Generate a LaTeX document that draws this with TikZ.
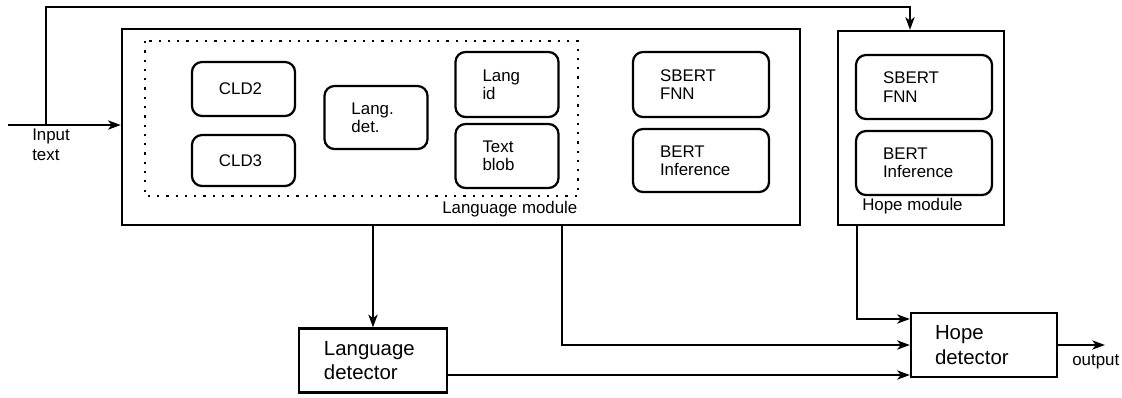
\documentclass[tikz,border=0pt]{standalone}
\usepackage{fontspec}
\setmainfont{Liberation Sans}
\usepackage{tikz}
\usetikzlibrary{arrows.meta}
\tikzstyle{unit} = [rectangle, rounded corners=0.25cm,
line width=1.6pt,
draw=black,
align=left,
inner xsep=0.675cm,
inner ysep=0pt,
font=\fontsize{12}{13}\selectfont]
\tikzstyle{smallunit} = [unit, text width=1.225cm]
\tikzstyle{wideunit} = [unit, text width=2.05cm]
\tikzstyle{module} = [rectangle,
line width=1.6pt,
draw=black]
\tikzstyle{detector} = [rectangle,
line width=1.6pt,
draw=black,
align=left,
inner xsep=0.6cm,
text width=2.45cm,
minimum height=1.6cm,
font=\fontsize{14.5}{17.5}\selectfont]
\tikzstyle{label} = [align=left, inner sep=0pt, font=\fontsize{12}{14}\selectfont]
\tikzstyle{arrow} = [line width=1.6pt, -{Stealth[length=9pt, width=6.5pt, inset=2.5pt]}]
\tikzstyle{line} = [line width=1.6pt]

\begin{document}
\begin{tikzpicture}[x=0.025cm, y=-0.025cm]
            \useasboundingbox (0,0) rectangle (1122,397);
            % language module
            \node (langmod) [module, minimum width=16.95cm, minimum height=4.9cm] at (461,127) {};
            \draw [line, dotted, dash pattern=on 1.6pt off 5pt] (145,41) rectangle (578,196);
            \node (cld2) [smallunit, minimum height=1.35cm] at (243.5,89) {CLD2};
            \node (cld3) [smallunit, minimum height=1.275cm] at (243.5,160.5) {CLD3};
            \node (langdet) [smallunit, minimum height=1.575cm] at (376,117.5) {Lang.\\det.};
            \node (langid) [smallunit, minimum height=1.625cm] at (507,84.5) {Lang\\id};
            \node (textblob) [smallunit, minimum height=1.6cm] at (507,156) {Text\\blob};
            \node (sbertlm) [wideunit, minimum height=1.625cm] at (701,84.5) {SBERT\\FNN};
            \node (bertlm) [wideunit, minimum height=1.575cm] at (701,160.5) {BERT\\Inference};
            \node (langlabel) [label, anchor=base west] at (442,213) {Language module};

            % hope module
            \node (hopemod) [module, minimum width=4.15cm, minimum height=4.85cm] at (921,128) {};
            \node (sberthm) [wideunit, minimum height=1.6cm] at (924,87) {SBERT\\FNN};
            \node (berthm) [wideunit, minimum height=1.6cm] at (924,163) {BERT\\Inference};
            \node (hopelabel) [label, anchor=base west] at (862,210) {Hope module};

            % detectors
            \node (langdetector) [detector, minimum width=3.7cm] at (373,360.5) {Language\\detector};
            \node (hopedetector) [detector, minimum width=3.65cm] at (984,345) {Hope\\detector};

            % input and output
            \coordinate (in) at (8,125);
            \coordinate (split) at (46,125);
            \coordinate (topturn) at (910,7);
            \coordinate (lmout) at (562,225);
            \coordinate (out) at (1105,345);
            \node (inlabel) [label, anchor=north west] at (32,129) {Input\\text};
            \node (outlabel) [label, anchor=base west] at (1072,365) {output};

            \draw [arrow] (in) -- (in -| langmod.west);
            \draw [arrow] (split) |- (topturn) -- (topturn |- hopemod.north);
            \draw [arrow] (langdetector.north |- langmod.south) -- (langdetector.north);
            \draw [arrow] (lmout) |- (hopedetector.west);
            \draw [arrow] ([yshift=-0.3625cm]langdetector.east) -- ([yshift=-0.3625cm]langdetector.east -| hopedetector.west);
            \draw [arrow] (857,225) |- ([yshift=0.65cm]hopedetector.west);
            \draw [arrow] (hopedetector.east) -- (out);
        \end{tikzpicture}
\end{document}
